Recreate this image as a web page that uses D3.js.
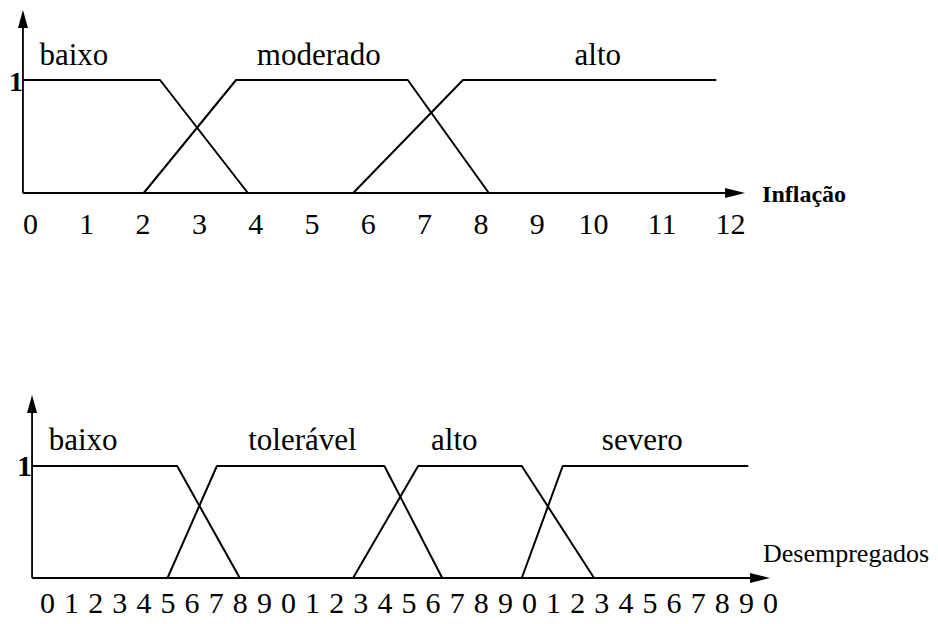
<!DOCTYPE html>
<html>
<head>
<meta charset="utf-8">
<script src="https://cdn.jsdelivr.net/npm/d3@7"></script>
<style>
  body { margin: 0; background: #fff; }
  text { font-family: 'Liberation Serif', 'Times New Roman', Times, serif; fill: #000; }
  .mf-line { fill: none; stroke: #000; stroke-width: 2; stroke-linejoin: round; }
  .axis-line { stroke: #000; stroke-width: 1.8; }
  .arrow { fill: #000; }
  .set-label { font-size: 31px; }
  .tick-label { font-size: 30px; }
</style>
</head>
<body>
<div id="chart-area"></div>
<script>
// 1. Data (x in units of each variable, y = membership degree)

const inflTicks = [0, 1, 2, 3, 4, 5, 6, 7, 8, 9, 10, 11, 12]
const inflSetNames = ["baixo", "moderado", "alto"]
const inflBaixo    = [[-0.12, 1], [2.31, 1], [3.87, 0]]
const inflModerado = [[2.02, 0], [3.66, 1], [6.71, 1], [8.15, 0]]
const inflAlto     = [[5.74, 0], [7.69, 1], [11.8, 1]]

const desTicks = [0, 1, 2, 3, 4, 5, 6, 7, 8, 9, 10, 11, 12, 13, 14, 15, 16, 17, 18, 19, 20,
                  21, 22, 23, 24, 25, 26, 27, 28, 29, 30]
const desTickLabels = ["0", "1", "2", "3", "4", "5", "6", "7", "8", "9", "0", "1", "2", "3", "4", "5",
                       "6", "7", "8", "9", "0", "1", "2", "3", "4", "5", "6", "7", "8", "9", "0"]
const desSetNames = ["baixo", "tolerável", "alto", "severo"]
const desBaixo     = [[-0.62, 1], [5.4, 1], [8.0, 0]]
const desToleravel = [[5.0, 0], [7.05, 1], [14.0, 1], [16.4, 0]]
const desAlto      = [[12.7, 0], [15.4, 1], [19.7, 1], [22.7, 0]]
const desSevero    = [[19.7, 0], [21.4, 1], [29.1, 1]]

// 2. Dimensions

const width = 938
const height = 624

const wrapper = d3.select("#chart-area")
  .append("svg")
    .attr("width", width)
    .attr("height", height)
    .style("display", "block")

// 3. Panel drawing

function drawPanel(o) {
  const g = wrapper.append("g")
  const x = o.xScale
  const y = o.yScale
  const xStart = x(o.axisExtent[0])
  const xEnd = x(o.axisExtent[1])
  const yBase = y(0)

  // x axis with arrow
  g.append("line")
    .attr("class", "axis-line")
    .attr("x1", xStart).attr("x2", xEnd - 16)
    .attr("y1", yBase).attr("y2", yBase)
  g.append("path")
    .attr("class", "arrow")
    .attr("d", `M${xEnd},${yBase} L${xEnd - 20},${yBase - 5} L${xEnd - 20},${yBase + 5}Z`)

  // y axis with arrow
  g.append("line")
    .attr("class", "axis-line")
    .attr("x1", xStart).attr("x2", xStart)
    .attr("y1", yBase).attr("y2", o.yTip + 14)
  g.append("path")
    .attr("class", "arrow")
    .attr("d", `M${xStart},${o.yTip} L${xStart - 5},${o.yTip + 18} L${xStart + 5},${o.yTip + 18}Z`)

  // "1" on the y axis
  g.append("text")
    .attr("x", xStart)
    .attr("y", y(1) + o.oneDy)
    .attr("text-anchor", "end")
    .style("font-size", o.oneSize + "px")
    .style("font-weight", "bold")
    .text("1")

  // tick labels
  const axis = d3.axisBottom(x)
    .tickValues(o.ticks)
    .tickSize(0)
    .tickFormat(o.tickFormat)
  const axisG = g.append("g")
    .attr("transform", `translate(0,${yBase})`)
    .call(axis)
  axisG.select(".domain").remove()
  axisG.attr("font-family", null).attr("font-size", null)
  axisG.selectAll("text")
    .attr("class", "tick-label")
    .attr("dy", null)
    .attr("y", o.tickOffset)
    .attr("fill", null)

  // membership functions
  const lineGenerator = d3.line()
    .x(d => x(d[0]))
    .y(d => y(d[1]))
  o.sets.forEach(s => {
    g.append("path")
      .attr("class", "mf-line")
      .attr("d", lineGenerator(s))
  })

  // set names
  o.setNames.forEach((name, i) => {
    g.append("text")
      .attr("class", "set-label")
      .attr("x", x(o.labelAt[i]))
      .attr("y", o.labelY)
      .attr("text-anchor", "middle")
      .text(name)
  })

  // variable name
  g.append("text")
    .attr("x", xEnd + o.titleDx)
    .attr("y", yBase + o.titleDy)
    .style("font-size", o.titleSize + "px")
    .style("font-weight", o.titleWeight)
    .text(o.title)
}

// 4. Top panel: Inflação

drawPanel({
  xScale: d3.scaleLinear().domain([0, 10, 12]).range([30, 593, 730]),
  yScale: d3.scaleLinear().domain([0, 1]).range([193, 80]),
  axisExtent: [-0.125, 12.22],
  yTip: 10,
  oneDy: 11,
  oneSize: 28,
  ticks: inflTicks,
  tickFormat: d => d,
  tickOffset: 41,
  sets: [inflBaixo, inflModerado, inflAlto],
  setNames: inflSetNames,
  labelAt: [0.78, 5.13, 10.07],
  labelY: 65,
  title: "Inflação",
  titleDx: 17,
  titleDy: 9,
  titleSize: 24,
  titleWeight: "bold"
})

// 5. Bottom panel: Desempregados

drawPanel({
  xScale: d3.scaleLinear().domain([0, 30]).range([47, 770]),
  yScale: d3.scaleLinear().domain([0, 1]).range([578, 466]),
  axisExtent: [-0.62, 30],
  yTip: 395,
  oneDy: 10,
  oneSize: 30,
  ticks: desTicks,
  tickFormat: (d, i) => desTickLabels[i],
  tickOffset: 35,
  sets: [desBaixo, desToleravel, desAlto, desSevero],
  setNames: desSetNames,
  labelAt: [1.5, 10.6, 16.9, 24.7],
  labelY: 450,
  title: "Desempregados",
  titleDx: -7,
  titleDy: -16,
  titleSize: 26,
  titleWeight: "normal"
})
</script>
</body>
</html>
